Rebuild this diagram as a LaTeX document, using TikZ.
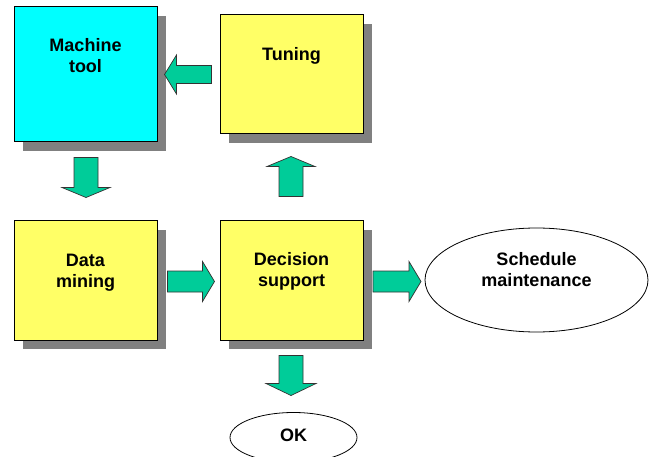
\documentclass[tikz,border=0pt]{standalone}
\usepackage{fontspec}
\setmainfont{Liberation Sans}
\usetikzlibrary{calc,shapes.geometric,shadows}

\definecolor{boxcyan}{RGB}{0,255,255}
\definecolor{boxyellow}{RGB}{255,255,102}
\definecolor{arrowgreen}{RGB}{0,204,153}
\definecolor{shadowgray}{RGB}{128,128,128}

% block arrow: #1 tail point, #2 direction angle, #3 length,
% #4 half shaft width, #5 half head width, #6 head length
\newcommand{\blockarrow}[6]{%
  \draw[arrowbody, shift={#1}, rotate=#2]
    (0,-#4) -- ({#3-#6},-#4) -- ({#3-#6},-#5) -- (#3,0)
    -- ({#3-#6},#5) -- ({#3-#6},#4) -- (0,#4) -- cycle;}

% two-line centred label, anchored at the baseline of its first line
\newcommand{\lbl}[1]{\begin{tabular}[t]{@{}c@{}}#1\end{tabular}}

\begin{document}
\begin{tikzpicture}[x=1pt, y=-1pt,
  procbox/.style={rectangle, draw=black, line width=1pt, inner sep=0pt,
    minimum width=143pt,
    general shadow={fill=shadowgray, shadow xshift=9pt, shadow yshift=-9pt}},
  outcome/.style={ellipse, draw=black, line width=0.8pt, fill=white, inner sep=0pt},
  arrowbody/.style={fill=arrowgreen, draw=black!80, line width=0.7pt, line join=miter},
  caption/.style={anchor=base, inner sep=0pt,
    font=\fontsize{18}{21}\selectfont\bfseries}]

\useasboundingbox (0,0) rectangle (653,457);

% process boxes
\node[procbox, fill=boxcyan,   minimum height=135pt] (mt) at (85.5,74.5) {};
\node[procbox, fill=boxyellow, minimum height=119pt] (tu) at (291.5,74.5) {};
\node[procbox, fill=boxyellow, minimum height=119pt] (dm) at (85.5,280.5) {};
\node[procbox, fill=boxyellow, minimum height=119pt] (ds) at (291.5,280.5) {};

% outcomes
\node[outcome, minimum width=223pt, minimum height=104pt] (sm) at (536.5,280) {};
\node[outcome, minimum width=127pt, minimum height=50pt]  (ok) at (293.5,437.5) {};

% labels
\node[caption] (mt-t) at (85.5,52)  {\lbl{Machine\\tool}};
\node[caption] (tu-t) at (291.5,61) {\lbl{Tuning}};
\node[caption] (dm-t) at (85.5,266) {\lbl{Data\\mining}};
\node[caption] (ds-t) at (291.5,265) {\lbl{Decision\\support}};
\node[caption] (sm-t) at (536.5,265.5) {\lbl{Schedule\\maintenance}};
\node[caption] (ok-t) at (293.5,441) {\lbl{OK}};

% flow arrows
\blockarrow{($(tu.west)+(-8,0)$)}{180}{47}{9}{19.5}{12}
\blockarrow{($(mt.south)+(0.5,15)$)}{-90}{40}{12}{24}{10}
\blockarrow{($(dm.east)+(10,1)$)}{0}{47}{10.5}{20}{12}
\blockarrow{($(ds.north)+(-0.5,-24)$)}{90}{40}{12}{24}{10}
\blockarrow{($(ds.east)+(9.5,1)$)}{0}{48}{10.5}{20}{12}
\blockarrow{($(ds.south)+(-0.5,15)$)}{-90}{40}{12}{25}{12}

\end{tikzpicture}
\end{document}
